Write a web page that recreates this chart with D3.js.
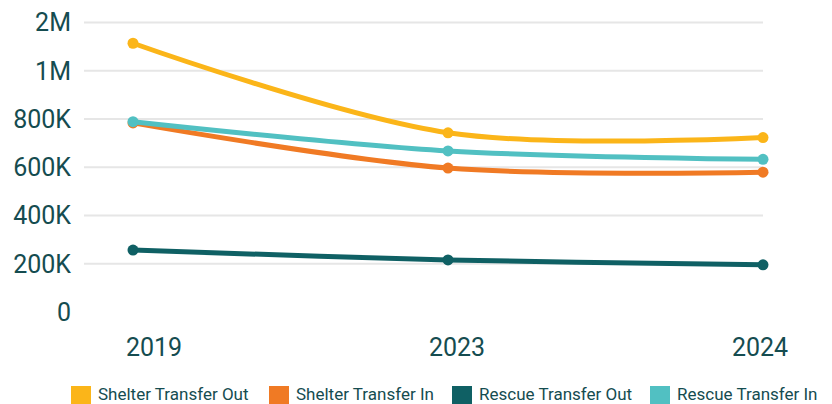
<!DOCTYPE html>
<html>
<head>
<meta charset="utf-8">
<script src="https://cdn.jsdelivr.net/npm/d3@7"></script>
<style>
  html, body { margin: 0; padding: 0; background: #fff; }
  svg { display: block; }
  text { font-family: Roboto, "Noto Sans", sans-serif; fill: #154c50; }
</style>
</head>
<body>
<svg id="chart" width="832" height="404"></svg>
<script>
const years = ["2019", "2023", "2024"];
const seriesNames = ["Shelter Transfer Out", "Shelter Transfer In", "Rescue Transfer Out", "Rescue Transfer In"];
const shelterTransferOut = [1114000, 743000, 723000];
const shelterTransferIn = [784000, 597000, 580000];
const rescueTransferOut = [257000, 216000, 196000];
const rescueTransferIn = [789000, 668000, 633000];
const colors = ["#fbb519", "#f07a24", "#0f6064", "#51c0c2"];
const yTickValues = [0, 200000, 400000, 600000, 800000, 1000000, 1200000];
const yTickLabels = ["0", "200K", "400K", "600K", "800K", "1M", "2M"];

const seriesValues = [shelterTransferOut, shelterTransferIn, rescueTransferOut, rescueTransferIn];
const series = seriesNames.map((name, i) => ({
  name, color: colors[i],
  values: years.map((y, j) => ({ year: y, value: seriesValues[i][j] }))
}));

const svg = d3.select("#chart");
const gridLeft = 84, gridRight = 763;

const x = d3.scalePoint().domain(years).range([133, 763]);
const xLabel = d3.scalePoint().domain(years).range([154, 760]);
const y = d3.scaleLinear().domain([0, 1200000]).range([312.1, 22.5]);

// gridlines (no line at 0)
svg.append("g").selectAll("line")
  .data(yTickValues.filter(v => v > 0))
  .join("line")
  .attr("x1", gridLeft).attr("x2", gridRight)
  .attr("y1", d => y(d)).attr("y2", d => y(d))
  .attr("stroke", "#e6e6e6").attr("stroke-width", 2);

// y tick labels
svg.append("g").selectAll("text")
  .data(yTickValues)
  .join("text")
  .attr("x", 71)
  .attr("y", d => y(d))
  .attr("dy", "0.35em")
  .attr("text-anchor", "end")
  .style("font-size", "25px")
  .text((d, i) => yTickLabels[i]);

// x tick labels
svg.append("g").selectAll("text")
  .data(years)
  .join("text")
  .attr("x", d => xLabel(d))
  .attr("y", 356)
  .attr("text-anchor", "middle")
  .style("font-size", "25px")
  .text(d => d);

const line = d3.line()
  .x(d => x(d.year))
  .y(d => y(d.value))
  .curve(d3.curveCatmullRom.alpha(0.5));

const sg = svg.append("g").selectAll("g").data(series).join("g");
sg.append("path")
  .attr("d", d => line(d.values))
  .attr("fill", "none")
  .attr("stroke", d => d.color)
  .attr("stroke-width", 5)
  .attr("stroke-linecap", "round");
sg.selectAll("circle")
  .data(d => d.values.map(v => ({ ...v, color: d.color })))
  .join("circle")
  .attr("cx", d => x(d.year))
  .attr("cy", d => y(d.value))
  .attr("r", 5.5)
  .attr("fill", d => d.color);

// legend
const legendX = [71, 269, 452, 650];
const lg = svg.append("g").selectAll("g").data(series).join("g")
  .attr("transform", (d, i) => `translate(${legendX[i]},386)`);
lg.append("rect").attr("width", 20).attr("height", 18).attr("fill", d => d.color);
lg.append("text")
  .attr("x", 27).attr("y", 13.5)
  .style("font-size", "17px")
  .text(d => d.name);
</script>
</body>
</html>
